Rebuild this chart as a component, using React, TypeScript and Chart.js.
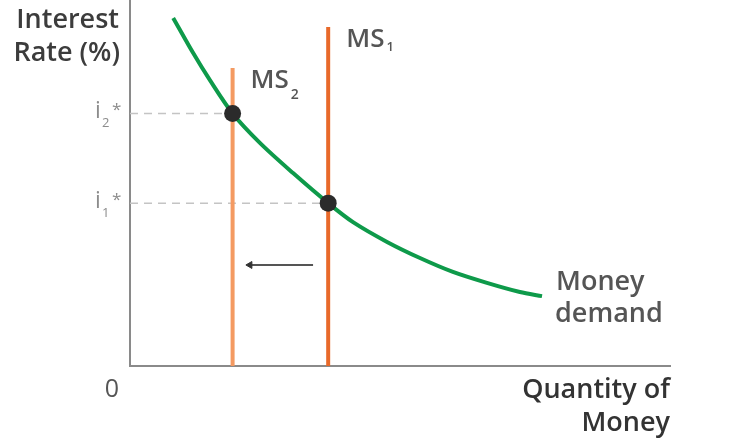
import React, { useEffect, useRef } from "react";
import { Chart, registerables } from "chart.js";

Chart.register(...registerables);

// ---- data ----
const demandX = [0.8, 1.17, 1.48, 1.9, 2.41, 3.02, 3.67, 4.13, 4.76, 5.37, 5.98, 6.61, 7.22, 7.63];
const demandY = [9.51, 8.55, 7.81, 6.9, 6.09, 5.27, 4.45, 3.93, 3.39, 2.95, 2.57, 2.27, 2.02, 1.91];
const ms1X = 3.67;
const ms1Top = 9.26;
const ms2X = 1.9;
const ms2Top = 8.14;
const i1 = 4.45;
const i2 = 6.9;
const arrowFrom = [3.39, 2.76];
const arrowTo = [2.22, 2.76];
const yAxisTitle = ["Interest", "Rate (%)"];
const xAxisTitle = ["Quantity of", "Money"];
const demandLabel = ["Money", "demand"];
const originLabel = "0";

const FONT = "'Open Sans', 'Liberation Sans', Arial, sans-serif";

const textPlugin = {
  id: "textLabels",
  afterDatasetsDraw(chart: any) {
    const ctx = chart.ctx as CanvasRenderingContext2D;
    const xs = chart.scales.x;
    const ys = chart.scales.y;
    const ca = chart.chartArea;
    const t = (
      s: string,
      x: number,
      y: number,
      size: number,
      color: string,
      align: CanvasTextAlign = "left",
      weight = 600
    ) => {
      ctx.save();
      ctx.font = `${weight} ${size}px ${FONT}`;
      ctx.fillStyle = color;
      ctx.textAlign = align;
      ctx.textBaseline = "alphabetic";
      ctx.fillText(s, x, y);
      const w = ctx.measureText(s).width;
      ctx.restore();
      return w;
    };
    // y axis title
    t(yAxisTitle[0], ca.left - 11, 28, 27, "#3c3c3c", "right");
    t(yAxisTitle[1], ca.left - 10, 61, 27, "#3c3c3c", "right");
    // x axis title
    t(xAxisTitle[0], ca.right, ca.bottom + 32, 27, "#333", "right");
    t(xAxisTitle[1], ca.right, ca.bottom + 65, 27, "#333", "right");
    // origin
    t(originLabel, ca.left - 18, ca.bottom + 31, 25, "#555", "center", 500);
    // money demand
    const lastX = xs.getPixelForValue(demandX[demandX.length - 1]);
    const lastY = ys.getPixelForValue(demandY[demandY.length - 1]);
    t(demandLabel[0], lastX + 14, lastY - 6, 27, "#555");
    t(demandLabel[1], lastX + 13, lastY + 26, 27, "#555");
    // MS labels
    const m1x = xs.getPixelForValue(ms1X);
    const m1y = ys.getPixelForValue(ms1Top);
    const w1 = t("MS", m1x + 18, m1y + 20, 26, "#555");
    t("1", m1x + 18 + w1 + 2, m1y + 24, 13, "#555");
    const m2x = xs.getPixelForValue(ms2X);
    const m2y = ys.getPixelForValue(ms2Top);
    const w2 = t("MS", m2x + 18, m2y + 20, 26, "#555");
    t("2", m2x + 18 + w2 + 2, m2y + 31, 14, "#555");
    // i labels
    const drawI = (sub: string, v: number) => {
      const py = ys.getPixelForValue(v);
      t("i", ca.left - 35, py + 5, 23, "#8c8c8c", "left", 500);
      t(sub, ca.left - 28, py + 14, 13, "#8c8c8c", "left", 500);
      t("*", ca.left - 18, py + 2, 17, "#8c8c8c", "left", 500);
    };
    drawI("2", i2);
    drawI("1", i1);
  },
};

export default function App() {
  const ref = useRef<HTMLCanvasElement | null>(null);
  useEffect(() => {
    document.body.style.margin = "0";
    const canvas = ref.current!;
    const demand = demandX.map((x, i) => ({ x, y: demandY[i] }));
    const chart = new Chart(canvas, {
      type: "scatter",
      data: {
        datasets: [
          {
            data: [
              { x: 0, y: i2 },
              { x: ms2X, y: i2 },
            ],
            order: 6,
            showLine: true,
            borderColor: "#c4c4c4",
            borderWidth: 1.5,
            borderDash: [8, 6],
            pointRadius: 0,
          },
          {
            data: [
              { x: 0, y: i1 },
              { x: ms1X, y: i1 },
            ],
            order: 6,
            showLine: true,
            borderColor: "#c4c4c4",
            borderWidth: 1.5,
            borderDash: [8, 6],
            pointRadius: 0,
          },
          {
            data: [
              { x: ms2X, y: 0 },
              { x: ms2X, y: ms2Top },
            ],
            order: 5,
            showLine: true,
            borderColor: "#f49a62",
            borderWidth: 4,
            pointRadius: 0,
          },
          {
            data: [
              { x: ms1X, y: 0 },
              { x: ms1X, y: ms1Top },
            ],
            order: 5,
            showLine: true,
            borderColor: "#e8692a",
            borderWidth: 4,
            pointRadius: 0,
          },
          {
            data: demand,
            order: 4,
            showLine: true,
            borderColor: "#0e9a4a",
            borderWidth: 4,
            pointRadius: 0,
            tension: 0.3,
          },
          {
            data: [
              { x: arrowFrom[0], y: arrowFrom[1] },
              { x: arrowTo[0], y: arrowTo[1] },
            ],
            order: 3,
            showLine: true,
            borderColor: "#555",
            borderWidth: 2,
            pointRadius: [0, 4],
            pointStyle: "triangle",
            rotation: -90,
            pointBackgroundColor: "#333",
            pointBorderColor: "#333",
            pointBorderWidth: 1,
          },
          {
            data: [
              { x: ms2X, y: i2 },
              { x: ms1X, y: i1 },
            ],
            order: 0,
            pointRadius: 8.5,
            pointBackgroundColor: "#2b2b2b",
            pointBorderColor: "#2b2b2b",
            pointBorderWidth: 0,
          },
        ] as any,
      },
      options: {
        responsive: false,
        animation: false,
        layout: {
          autoPadding: false,
          padding: { left: 130, right: 62, top: 0, bottom: 77 },
        },
        plugins: {
          legend: { display: false },
          tooltip: { enabled: false },
        },
        scales: {
          x: {
            type: "linear",
            min: 0,
            max: 10,
            grid: { display: false, drawTicks: false },
            ticks: { display: false },
            border: { display: true, color: "#8a8a8a", width: 2 },
          },
          y: {
            type: "linear",
            min: 0,
            max: 10,
            grid: { display: false, drawTicks: false },
            ticks: { display: false },
            border: { display: true, color: "#8a8a8a", width: 2 },
          },
        },
      },
      plugins: [textPlugin],
    });
    return () => chart.destroy();
  }, []);
  return (
    <canvas
      ref={ref}
      width={732}
      height={443}
      style={{ display: "block", width: 732, height: 443 }}
    />
  );
}
